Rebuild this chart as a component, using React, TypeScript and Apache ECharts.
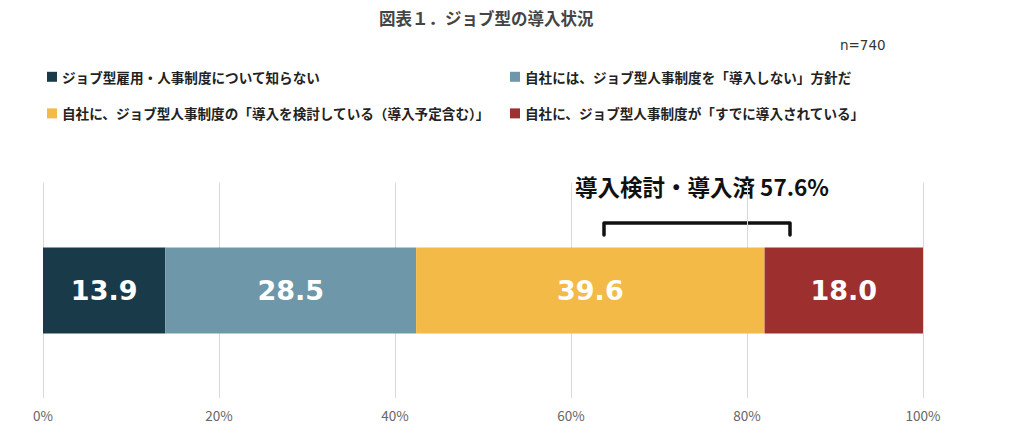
import React, { useEffect, useRef } from "react";
import * as echarts from "echarts";

const title = "図表１．ジョブ型の導入状況";
const sampleNote = "n=740";
const categories = ["導入状況"];
const seriesNames = [
  "ジョブ型雇用・人事制度について知らない",
  "自社には、ジョブ型人事制度を「導入しない」方針だ",
  "自社に、ジョブ型人事制度の「導入を検討している（導入予定含む）」",
  "自社に、ジョブ型人事制度が「すでに導入されている」",
];
const seriesValues = [13.9, 28.5, 39.6, 18.0];
const seriesColors = ["#193b49", "#6e97aa", "#f3ba47", "#9e2f2f"];
const xTicks = [0, 20, 40, 60, 80, 100];
const annotation = "導入検討・導入済 57.6%";

const FONT = "'Noto Sans CJK JP', 'Noto Sans', sans-serif";

export default function App() {
  const ref = useRef<HTMLDivElement>(null);
  useEffect(() => {
    if (!ref.current) return;
    const chart = echarts.init(ref.current, null, { renderer: "svg" });
    const legendText = { fontFamily: FONT, fontSize: 13.6, fontWeight: "bold", color: "#222" };
    chart.setOption({
      animation: false,
      textStyle: { fontFamily: FONT },
      title: {
        text: title,
        left: 374,
        top: 5,
        textStyle: { fontFamily: FONT, fontSize: 16.5, fontWeight: "bold", color: "#444" },
      },
      legend: [
        {
          data: [seriesNames[0], seriesNames[2]],
          orient: "vertical",
          left: 42,
          top: 65,
          itemWidth: 10,
          itemHeight: 10,
          itemGap: 23,
          icon: "rect",
          textStyle: legendText,
          selectedMode: false,
        },
        {
          data: [seriesNames[1], seriesNames[3]],
          orient: "vertical",
          left: 505,
          top: 65,
          itemWidth: 10,
          itemHeight: 10,
          itemGap: 23,
          icon: "rect",
          textStyle: legendText,
          selectedMode: false,
        },
      ],
      grid: { left: 43, right: 101, top: 183, bottom: 39, containLabel: false },
      xAxis: {
        type: "value",
        min: 0,
        max: 100,
        interval: 20,
        axisLine: { show: false },
        axisTick: { show: false },
        splitLine: { show: true, lineStyle: { color: "#d9d9d9", width: 1 } },
        axisLabel: {
          margin: 10,
          color: "#666",
          fontSize: 13.5,
          fontFamily: FONT,
          formatter: (v: number) => (xTicks.includes(v) ? `${v}%` : ""),
        },
      },
      yAxis: {
        type: "category",
        data: categories,
        show: false,
      },
      series: seriesNames.map((name, i) => ({
        name,
        type: "bar",
        stack: "total",
        barWidth: 86,
        data: [seriesValues[i]],
        itemStyle: { color: seriesColors[i] },
        label: {
          show: true,
          position: "inside",
          formatter: (p: any) => Number(p.value).toFixed(1),
          color: "#fff",
          fontSize: 27,
          fontWeight: "bold",
          fontFamily: "'DejaVu Sans', sans-serif",
        },
      })),
      graphic: [
        {
          type: "text",
          left: 840,
          top: 38,
          style: { text: sampleNote, fontSize: 13.5, fill: "#333", fontFamily: "'DejaVu Sans', sans-serif" },
        },
        {
          type: "text",
          left: 575,
          top: 175,
          style: {
            text: annotation,
            fontSize: 22.5,
            fontWeight: "bold",
            fill: "#111",
            fontFamily: FONT,
          },
        },
        {
          type: "polyline",
          shape: {
            points: [
              [604, 235],
              [604, 223],
              [790, 223],
              [790, 235],
            ],
          },
          style: { stroke: "#111", lineWidth: 3.5, fill: "none", lineJoin: "round", lineCap: "round" },
        },
      ],
    });
    return () => chart.dispose();
  }, []);
  return <div ref={ref} style={{ width: 1024, height: 437, margin: -8 }} />;
}
